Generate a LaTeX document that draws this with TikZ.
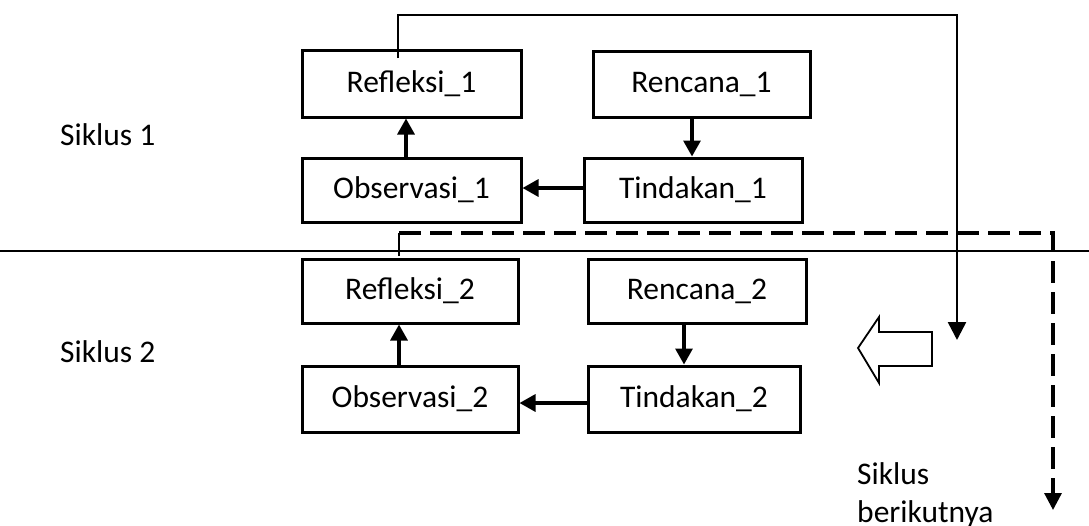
\documentclass[tikz,border=0pt]{standalone}
\usepackage{fontspec}
\setmainfont{Carlito}
\usetikzlibrary{arrows.meta}
\tikzset{
  box/.style={draw, line width=3pt, inner sep=0pt, align=center, font=\fontsize{31.5}{36}\selectfont},
  arr/.style={line width=3.2pt, -{Triangle[length=16pt,width=17pt]}},
  lbl/.style={anchor=base west, inner sep=0pt, font=\fontsize{31.5}{36}\selectfont},
}
\begin{document}
\begin{tikzpicture}[x=1pt,y=-1pt]
\useasboundingbox (0,0) rectangle (1089,525);
% boxes
\node[box, minimum width=219pt, minimum height=67pt] (R1) at (411.5,83.5) {Refleksi\_1};
\node[box, minimum width=217pt, minimum height=66pt] (Re1) at (701.5,84) {Rencana\_1};
\node[box, minimum width=219pt, minimum height=64pt] (O1) at (411.5,190) {Observasi\_1};
\node[box, minimum width=218pt, minimum height=64pt] (T1) at (693,190) {Tindakan\_1};
\node[box, minimum width=216pt, minimum height=64pt] (R2) at (410,291) {Refleksi\_2};
\node[box, minimum width=218pt, minimum height=64pt] (Re2) at (697,291) {Rencana\_2};
\node[box, minimum width=216pt, minimum height=66pt] (O2) at (410,399) {Observasi\_2};
\node[box, minimum width=212pt, minimum height=66pt] (T2) at (694,399) {Tindakan\_2};
% labels
\node[lbl] (S1) at (60,145) {Siklus 1};
\node[lbl] (S2) at (60,362) {Siklus 2};
\node[lbl] (S3) at (857,484) {Siklus};
\node[lbl] (S4) at (857,522) {berikutnya};
% separator
\coordinate (hl) at (0,251);
\coordinate (hr) at (1089,251);
\draw[line width=2.2pt] (hl) -- (hr);
% cycle arrows
\draw[arr] (O1.north -| 406,0) -- (R1.south -| 406,0);
\draw[arr] (Re1.south -| 692,0) -- (T1.north -| 692,0);
\draw[arr] (T1.west |- 0,188) -- (O1.east |- 0,188);
\draw[arr] (O2.north -| 399,0) -- (R2.south -| 399,0);
\draw[arr] (Re2.south -| 684,0) -- (T2.north -| 684,0);
\draw[arr] (T2.west |- 0,403) -- (O2.east |- 0,403);
% loop to next cycle
\coordinate (L0) at (398,58);
\coordinate (L1) at (957,15);
\coordinate (L2) at (957,340);
\draw[line width=2.6pt, -{Triangle[length=18pt,width=18pt]}] (L0) |- (L1) -- (L2);
% dashed to following cycle
\coordinate (D0) at (399,256);
\coordinate (D1) at (399,233);
\coordinate (D2) at (1053,233);
\coordinate (D3) at (1053,510);
\draw[line width=2.4pt] (D0) -- (D1);
\draw[line width=3.2pt, dash pattern=on 22pt off 9pt, -{Triangle[length=17pt,width=17pt]}] (D1) -- (D2) -- (D3);
% hollow arrow
\draw[line width=1.8pt, line join=miter] (858,348) -- (879,317) -- (879,332) -- (932,332) -- (932,366) -- (879,366) -- (879,383) -- cycle;
\end{tikzpicture}
\end{document}
